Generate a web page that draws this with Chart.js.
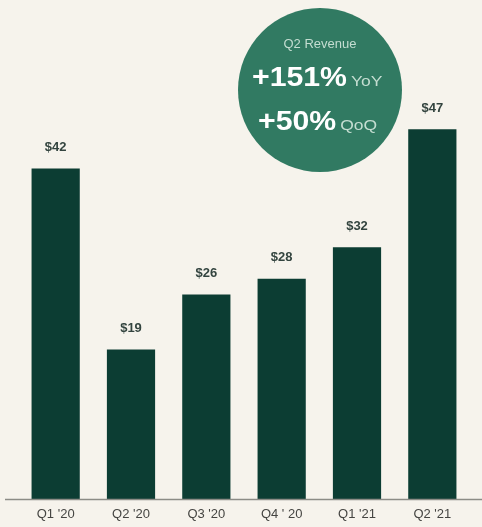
<!DOCTYPE html>
<html>
<head>
<meta charset="utf-8">
<title>Quarterly Revenue</title>
<script src="https://cdn.jsdelivr.net/npm/chart.js"></script>
<style>
  html, body { margin: 0; padding: 0; background: #f6f3ec; }
  #wrap { position: relative; width: 482px; height: 527px; }
</style>
</head>
<body>
<div id="wrap">
  <canvas id="revChart" width="482" height="527"></canvas>
</div>

<script>
// quarterly revenue ($M)
var quarters = ["Q1 '20", "Q2 '20", "Q3 '20", "Q4 ' 20", "Q1 '21", "Q2 '21"];
var revenue = [42, 19, 26, 28, 32, 47];

// growth badge text
var badgeTitle = "Q2 Revenue";
var growthRows = [["+151%", "YoY"], ["+50%", "QoQ"]];

var BAR = "#0c3d33";
var BADGE = "#317a62";
var FONT = "'Liberation Sans', Arial, sans-serif";

// draw text stretched horizontally, left aligned at x
function wideText(ctx, txt, x, y, sx) {
    ctx.save();
    ctx.translate(x, y);
    ctx.scale(sx, 1);
    ctx.fillText(txt, 0, 0);
    ctx.restore();
    return ctx.measureText(txt).width * sx;
}

var decorations = {
    id: 'decorations',
    afterDatasetsDraw: function(chart) {
        var ctx = chart.ctx;
        var area = chart.chartArea;

        // baseline rule
        ctx.save();
        ctx.strokeStyle = "#8c8c86";
        ctx.lineWidth = 1.5;
        ctx.beginPath();
        ctx.moveTo(5, area.bottom + 0.5);
        ctx.lineTo(chart.width, area.bottom + 0.5);
        ctx.stroke();

        // value labels above bars
        var meta = chart.getDatasetMeta(0);
        ctx.fillStyle = "#33443f";
        ctx.font = "bold 13px " + FONT;
        ctx.textAlign = "center";
        ctx.textBaseline = "middle";
        meta.data.forEach(function(bar, i) {
            ctx.fillText("$" + revenue[i], bar.x, bar.y - 21);
        });

        // growth badge
        var cx = 320, cy = 90, r = 82;
        ctx.fillStyle = BADGE;
        ctx.beginPath();
        ctx.arc(cx, cy, r, 0, Math.PI * 2);
        ctx.fill();

        ctx.textAlign = "center";
        ctx.textBaseline = "alphabetic";
        ctx.fillStyle = "#c4ddd1";
        ctx.font = "13px " + FONT;
        ctx.fillText(badgeTitle, cx, 48);

        ctx.textAlign = "left";
        var rowY = [86, 130];
        var rowX = [252, 258];
        growthRows.forEach(function(row, i) {
            ctx.fillStyle = "#ffffff";
            ctx.font = "bold 27px " + FONT;
            var w = wideText(ctx, row[0], rowX[i], rowY[i], 1.12);
            ctx.fillStyle = "#c4ddd1";
            ctx.font = "14px " + FONT;
            wideText(ctx, row[1], rowX[i] + w + 4, rowY[i], 1.25);
        });
        ctx.restore();
    }
};

var chart = new Chart(document.getElementById('revChart'), {
    type: 'bar',
    data: {
        labels: quarters,
        datasets: [{
            data: revenue,
            backgroundColor: BAR,
            borderWidth: 0,
            barPercentage: 0.64,
            categoryPercentage: 1
        }]
    },
    options: {
        responsive: false,
        animation: false,
        layout: { padding: { left: 18, right: 12, top: 27, bottom: 5 } },
        plugins: {
            legend: { display: false },
            tooltip: { enabled: false }
        },
        scales: {
            x: {
                grid: { display: false, drawTicks: false },
                border: { display: false },
                afterFit: function(scale) { scale.height = 23; },
                ticks: {
                    color: "#454542",
                    padding: 8,
                    font: { family: FONT, size: 13 }
                }
            },
            y: {
                display: false,
                min: 0,
                max: 60
            }
        }
    },
    plugins: [decorations]
});
</script>
</body>
</html>
